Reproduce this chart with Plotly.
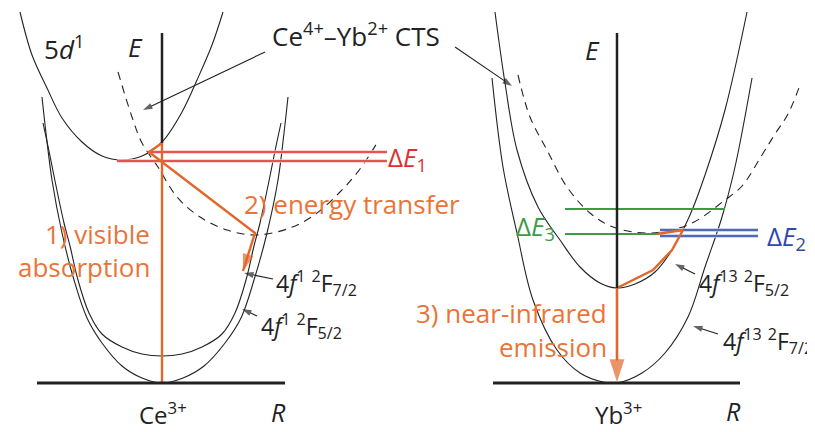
import plotly.graph_objects as go

# Picture units: R runs to the right, E is measured down from the top edge
# (the y axis is reversed so the numbers).

# ---- Ce3+ (left) ----
ce_5d_R = [20, 32, 47, 62, 82, 102, 122, 142, 162, 182, 197, 212, 223]
ce_5d_E = [12, 55, 88, 118, 142, 156, 160, 156, 142, 112, 80, 45, 12]

ce_f52_R = [42, 46, 52, 62, 74, 87, 102, 122, 142, 162, 183, 204, 225, 241, 254, 267, 278, 284, 288]
ce_f52_E = [97, 133, 180, 233, 280, 318, 343, 366, 378, 383, 378, 366, 343, 318, 280, 233, 180, 133, 97]

ce_f72_R = [43, 49, 54, 64, 70, 78, 89, 102, 122, 142, 162, 182, 202, 222, 235, 246, 254, 260, 270, 275, 281]
ce_f72_E = [123, 151, 176, 223, 246, 280, 313, 334, 347, 354, 356, 354, 347, 334, 313, 280, 246, 223, 176, 151, 123]

ce_cts_R = [118, 132, 142, 158, 177, 200, 227, 255, 287, 313, 340, 360, 377]
ce_cts_E = [72, 117, 143, 167, 197, 217, 230, 235, 229, 216, 192, 169, 143]

# ---- Yb3+ (right) ----
yb_f52_R = [495, 505, 517, 538, 560, 580, 600, 617, 635, 655, 672, 690, 705, 725, 747]
yb_f52_E = [12, 83, 150, 207, 240, 267, 283, 288, 284, 272, 250, 215, 175, 110, 12]

yb_f72_R = [492, 503, 517, 533, 557, 580, 603, 617, 642, 665, 688, 705, 722, 735, 752]
yb_f72_E = [78, 167, 233, 300, 350, 373, 382, 383, 373, 353, 317, 267, 217, 167, 78]

yb_cts_R = [518, 530, 547, 567, 590, 613, 650, 690, 725, 742, 762, 775, 788, 800]
yb_cts_E = [75, 117, 150, 187, 213, 227, 233, 224, 200, 186, 155, 134, 114, 85]

# axes of the two diagrams
axis_E_R = [162, 617]
axis_E_top = 33
axis_E_end = [143, 288]
axis_base_E = 383
axis_base_R = [(37, 285), (493, 740)]

# energy-gap levels (E, R start, R end)
dE1_levels = [(152, 148, 387), (161, 117, 387)]
dE2_levels = [(230, 660, 758), (236, 660, 758)]
dE3_levels = [(209, 565, 725), (234, 565, 657)]

# orange process paths
ce_transfer_R = [162, 149, 162, 255, 243]
ce_transfer_E = [143, 152, 162, 233, 271]
yb_relax_R = [657, 683, 672, 653, 617]
yb_relax_E = [234, 230, 250, 270, 288]

# label pointers: (tail R, tail E, tip R, tip E)
pointers = [
    (265, 52, 143, 110),
    (455, 47, 512, 86),
    (273, 279, 244, 273),
    (257, 316, 242, 309),
    (695, 274, 675, 264),
    (718, 334, 693, 326),
]

BLACK = "#222222"
ORANGE = "#e2672a"
ORANGE_TXT = "#ea7437"
RED = "#dc3030"
BLUE = "#2d4aa8"
GREEN = "#3f9a45"
FONT = "Open Sans"

# the page body has an 8px margin, so the plot is shrunk and shifted to sit where the picture is
PAGE_MARGIN = 8
W, H = 815, 432

fig = go.Figure()


def curve(r, e, dash=None, color=BLACK, width=1.1, shape="spline", head=0):
    marker = None
    mode = "lines"
    if head:
        mode = "lines+markers"
        marker = dict(symbol="arrow", angleref="previous", color=color,
                      size=[0] * (len(r) - 1) + [head], line=dict(width=0))
    fig.add_trace(go.Scatter(x=r, y=e, mode=mode, line_shape=shape, marker=marker,
                             line=dict(color=color, width=width, dash=dash),
                             hoverinfo="skip", showlegend=False))


# potential curves
curve(ce_5d_R, ce_5d_E)
curve(ce_f52_R, ce_f52_E)
curve(ce_f72_R, ce_f72_E)
curve(ce_cts_R, ce_cts_E, dash="8px,6px")
curve(yb_f52_R, yb_f52_E)
curve(yb_f72_R, yb_f72_E)
curve(yb_cts_R, yb_cts_E, dash="8px,6px")

# energy gaps: coloured lines with a pale glow
for levels, glow, col in [(dE1_levels, "#f8c4c4", RED), (dE2_levels, "#bac8ee", BLUE)]:
    for e, r0, r1 in levels:
        curve([r0, r1], [e, e], color=glow, width=3.5, shape="linear")
        curve([r0, r1], [e, e], color=col, width=1.4, shape="linear")
for e, r0, r1 in dE3_levels:
    curve([r0, r1], [e, e], color=GREEN, width=2, shape="linear")

# orange transitions
curve([axis_E_R[0], axis_E_R[0]], [axis_base_E, axis_E_end[0]], color=ORANGE, width=2.4, shape="linear")
curve(ce_transfer_R, ce_transfer_E, color=ORANGE, width=2.4, shape="linear", head=18)
curve(yb_relax_R, yb_relax_E, color=ORANGE, width=2.4, shape="linear")

# E and R axes
for r, e_end in zip(axis_E_R, axis_E_end):
    curve([r, r], [axis_E_top, e_end], color=BLACK, width=2.5, shape="linear")
for r0, r1 in axis_base_R:
    curve([r0, r1], [axis_base_E, axis_base_E], color=BLACK, width=3, shape="linear")

# near-infrared emission arrow
curve([axis_E_R[1], axis_E_R[1]], [axis_E_end[1], axis_base_E - 1], color=ORANGE, width=2.6,
      shape="linear", head=24)

for tr, te, hr, he in pointers:
    curve([tr, hr], [te, he], color=BLACK, width=1.1, shape="linear", head=10)

# labels: (text, R, E, anchor, colour, size)
labels = [
    ("5<i>d</i><sup>1</sup>", 42, 48, "left", BLACK, 26),
    ("<i>E</i>", 135, 47, "center", BLACK, 26),
    ("<i>E</i>", 592, 50, "center", BLACK, 26),
    ("Ce<sup>4+</sup>–Yb<sup>2+</sup> CTS", 270, 35, "left", BLACK, 26),
    ("Δ<i>E</i><sub>1</sub>", 386, 158, "left", RED, 26),
    ("2) energy transfer", 242, 204, "left", ORANGE_TXT, 26),
    ("1) visible", 152, 234, "right", ORANGE_TXT, 26),
    ("absorption", 152, 267, "right", ORANGE_TXT, 26),
    ("4<i>f</i><sup>1</sup> <sup>2</sup>F<sub>7/2</sub>", 274, 283, "left", BLACK, 23),
    ("4<i>f</i><sup>1</sup> <sup>2</sup>F<sub>5/2</sub>", 259, 326, "left", BLACK, 23),
    ("Δ<i>E</i><sub>3</sub>", 514, 227, "left", GREEN, 26),
    ("Δ<i>E</i><sub>2</sub>", 765, 237, "left", BLUE, 26),
    ("4<i>f</i><sup>13</sup> <sup>2</sup>F<sub>5/2</sub>", 697, 283, "left", BLACK, 23),
    ("4<i>f</i><sup>13</sup> <sup>2</sup>F<sub>7/2</sub>", 721, 341, "left", BLACK, 23),
    ("3) near-infrared", 609, 313, "right", ORANGE_TXT, 26),
    ("emission", 609, 347, "right", ORANGE_TXT, 26),
    ("Ce<sup>3+</sup>", 163, 413, "center", BLACK, 24),
    ("<i>R</i>", 278, 412, "center", BLACK, 25),
    ("Yb<sup>3+</sup>", 618, 413, "center", BLACK, 24),
    ("<i>R</i>", 733, 411, "center", BLACK, 25),
]
for text, x, y, anchor, col, size in labels:
    fig.add_annotation(x=x, y=y, xref="x", yref="y", text=text, showarrow=False,
                       xanchor=anchor, yanchor="middle",
                       font=dict(family=FONT, size=size, color=col))

fig.update_layout(
    width=W - PAGE_MARGIN, height=H - PAGE_MARGIN,
    margin=dict(l=0, r=0, t=0, b=0),
    paper_bgcolor="white", plot_bgcolor="white",
    xaxis=dict(range=[PAGE_MARGIN, W], visible=False, fixedrange=True),
    yaxis=dict(range=[H, PAGE_MARGIN], visible=False, fixedrange=True),
    showlegend=False,
)

fig.write_html("out.html")
